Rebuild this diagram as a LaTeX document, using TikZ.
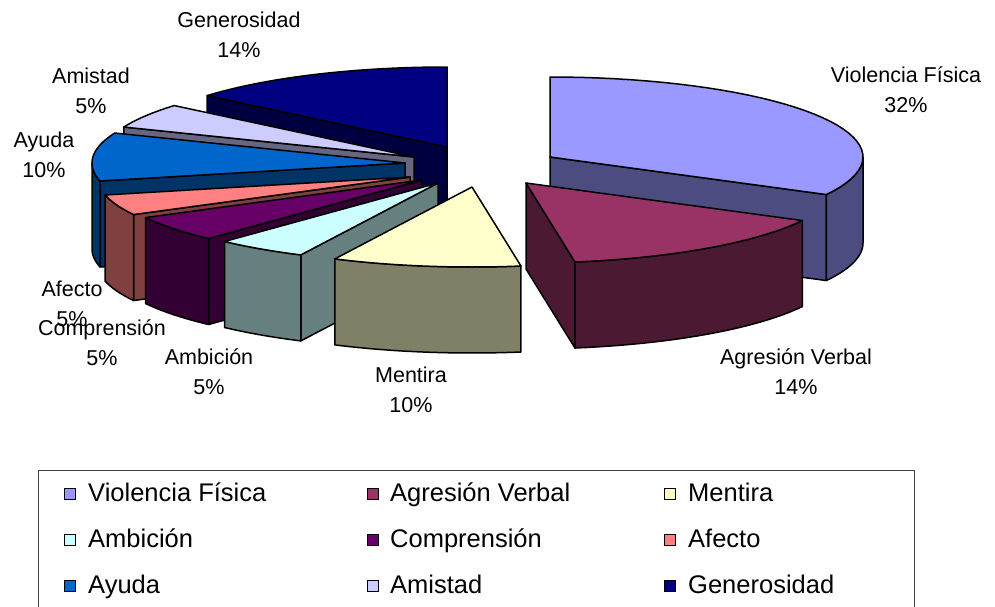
\documentclass[tikz,border=0pt]{standalone}
\usepackage{fontspec}
\setmainfont{Liberation Sans}

\definecolor{violencia}{HTML}{9999FF}
\definecolor{agresion}{HTML}{993366}
\definecolor{mentira}{HTML}{FFFFCC}
\definecolor{ambicion}{HTML}{CCFFFF}
\definecolor{comprension}{HTML}{660066}
\definecolor{afecto}{HTML}{FF8080}
\definecolor{ayuda}{HTML}{0066CC}
\definecolor{amistad}{HTML}{CCCCFF}
\definecolor{generosidad}{HTML}{000080}

% half axes and height of the pie, in px
\newcommand{\pierx}{313}
\newcommand{\piery}{80}
\newcommand{\pieh}{86}

% cut face of a slice at one angle
\newcommand{\pieside}[4]{%
  \filldraw [slicefill, fill=#4!50!black] (#1, #2) -- ({#1+\pierx*sin(#3)}, {#2-\piery*cos(#3)})
    -- ({#1+\pierx*sin(#3)}, {#2-\piery*cos(#3)+\pieh}) -- (#1, {#2+\pieh}) -- cycle;}
% outer wall between two angles
\newcommand{\pierim}[5]{%
  \filldraw [slicefill, fill=#5!50!black] plot [domain=#3:#4, samples=25] ({#1+\pierx*sin(\x)}, {#2-\piery*cos(\x)})
    -- plot [domain=#3:#4, samples=25] ({#1+\pierx*sin(#3+#4-\x)}, {#2-\piery*cos(#3+#4-\x)+\pieh}) -- cycle;}
% top of a slice
\newcommand{\pietop}[5]{%
  \filldraw [slicefill, fill=#5] (#1, #2) -- plot [domain=#3:#4, samples=40] ({#1+\pierx*sin(\x)}, {#2-\piery*cos(\x)}) -- cycle;}

\begin{document}
\begin{tikzpicture}[x=1pt, y=-1pt,
  slicefill/.style={draw=black, line width=1.5pt, line join=round},
  lbl/.style={font=\fontsize{21.5}{30}\selectfont, align=center, inner sep=0pt},
  legtext/.style={font=\fontsize{25.5}{30}\selectfont, anchor=base west, inner sep=0pt},
  legkey/.style={draw=black, line width=1.2pt, minimum size=11pt, inner sep=0pt}]
\useasboundingbox (0, 0) rectangle (995, 607);
\clip (0, 0) rectangle (995, 607);
%\draw[help lines, step=50] (0, 0) grid (995, 607);

% back slices first
\pieside{447}{147}{310}{generosidad}
\pietop{447}{147}{310}{360}{generosidad}
\pieside{414}{157}{292}{amistad}
\pietop{414}{157}{292}{310}{amistad}
\pieside{405}{163}{257}{ayuda}
\pierim{405}{163}{257}{270}{ayuda}
\pietop{405}{163}{257}{292}{ayuda}
\pieside{410}{177}{242}{afecto}
\pierim{410}{177}{242}{257}{afecto}
\pietop{410}{177}{242}{257}{afecto}
\pieside{422}{180}{223}{comprension}
\pierim{422}{180}{223}{242}{comprension}
\pietop{422}{180}{223}{242}{comprension}
\pieside{438}{183}{206}{ambicion}
\pierim{438}{183}{206}{223}{ambicion}
\pietop{438}{183}{206}{223}{ambicion}
\pieside{550}{157}{118}{violencia}
\pierim{550}{157}{90}{118}{violencia}
\pietop{550}{157}{0}{118}{violencia}
\pieside{526}{183}{171}{agresion}
\pierim{526}{183}{118}{171}{agresion}
\pietop{526}{183}{118}{171}{agresion}
\pierim{472}{187}{171}{206}{mentira}
\pietop{472}{187}{171}{206}{mentira}

\draw (239, 35) node [lbl] (lgen) {Generosidad\\14\%};
\draw (91, 91) node [lbl] (lami) {Amistad\\5\%};
\draw (44, 155) node [lbl] (lay) {Ayuda\\10\%};
\draw (72, 304) node [lbl] (laf) {Afecto\\5\%};
\draw (102, 343) node [lbl] (lcom) {Comprensión\\5\%};
\draw (209, 372) node [lbl] (lamb) {Ambición\\5\%};
\draw (411, 390) node [lbl] (lmen) {Mentira\\10\%};
\draw (796, 372) node [lbl] (lagr) {Agresión Verbal\\14\%};
\draw (906, 90) node [lbl] (lvio) {Violencia Física\\32\%};

% legend
\draw [black!75, line width=1pt] (38, 470) rectangle (914, 650);
\draw (70, 494) node [legkey, fill=violencia] (kvio) {};
\draw (88, 501) node [legtext] (tvio) {Violencia Física};
\draw (373, 494) node [legkey, fill=agresion] (kagr) {};
\draw (390, 501) node [legtext] (tagr) {Agresión Verbal};
\draw (670, 494) node [legkey, fill=mentira] (kmen) {};
\draw (688, 501) node [legtext] (tmen) {Mentira};
\draw (70, 540) node [legkey, fill=ambicion] (kamb) {};
\draw (88, 547) node [legtext] (tamb) {Ambición};
\draw (373, 540) node [legkey, fill=comprension] (kcom) {};
\draw (390, 547) node [legtext] (tcom) {Comprensión};
\draw (670, 540) node [legkey, fill=afecto] (kaf) {};
\draw (688, 547) node [legtext] (taf) {Afecto};
\draw (70, 586) node [legkey, fill=ayuda] (kay) {};
\draw (88, 593) node [legtext] (tay) {Ayuda};
\draw (373, 586) node [legkey, fill=amistad] (kami) {};
\draw (390, 593) node [legtext] (tami) {Amistad};
\draw (670, 586) node [legkey, fill=generosidad] (kgen) {};
\draw (688, 593) node [legtext] (tgen) {Generosidad};
\end{tikzpicture}
\end{document}
